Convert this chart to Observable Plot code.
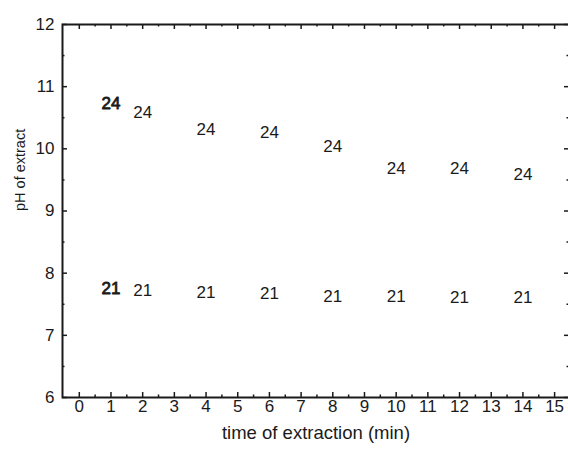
<!DOCTYPE html>
<html>
<head>
<meta charset="utf-8">
<script src="https://cdn.jsdelivr.net/npm/d3@7"></script>
<script src="https://cdn.jsdelivr.net/npm/@observablehq/plot@0.6"></script>
<style>
  html, body { margin: 0; padding: 0; background: #fff; overflow: hidden; }
</style>
</head>
<body>
<div id="chart"></div>
<script>
// Extraction time (min) and measured pH of the extract for the two samples
const time = [1, 2, 4, 6, 8, 10, 12, 14];
const ph24 = [10.73, 10.59, 10.31, 10.27, 10.04, 9.68, 9.69, 9.58];
const ph21 = [7.76, 7.72, 7.69, 7.67, 7.63, 7.63, 7.60, 7.60];
const seriesNames = ["24", "21"];

// Axis ticks
const xTicks = d3.range(0, 16);          // 0 … 15
const xMinor = d3.range(0.5, 15, 1);      // 0.5 … 14.5
const yTicks = d3.range(6, 13);           // 6 … 12
const yMinor = d3.range(6.5, 12, 1);      // 6.5 … 11.5

const xTitle = "time of extraction (min)";
const yTitle = "pH of extract";

const points = [
  ...time.map((t, i) => ({t, ph: ph24[i], name: seriesNames[0]})),
  ...time.map((t, i) => ({t, ph: ph21[i], name: seriesNames[1]}))
];

// The right edge of the frame sits just past the page edge; only its ticks show.
const W = 568, H = 451;
const mTop = 24, mBottom = 54, mLeft = 62, mRight = -1;
const plotW = W - mLeft - mRight;
const plotH = H - mTop - mBottom;
const major = 5, minor = 2.5;
const ink = "#1a1a1a";

const chart = Plot.plot({
  width: W,
  height: H,
  marginTop: mTop,
  marginBottom: mBottom,
  marginLeft: mLeft,
  marginRight: mRight,
  style: {fontFamily: "'Liberation Sans', Arial, sans-serif", fontSize: "17px", color: ink, background: "#fff"},
  x: {domain: [-0.53, 15.47], axis: null},
  y: {domain: [6, 12], axis: null},
  marks: [
    // inward ticks on all four sides
    Plot.tickX(xTicks, {x: d => d, insetTop: plotH - major, stroke: ink, strokeWidth: 1.5}),
    Plot.tickX(xTicks, {x: d => d, insetBottom: plotH - major, stroke: ink, strokeWidth: 1.5}),
    Plot.tickX(xMinor, {x: d => d, insetTop: plotH - minor, stroke: ink, strokeWidth: 1.5}),
    Plot.tickX(xMinor, {x: d => d, insetBottom: plotH - minor, stroke: ink, strokeWidth: 1.5}),
    Plot.tickY(yTicks, {y: d => d, insetRight: plotW - major, stroke: ink, strokeWidth: 1.5}),
    Plot.tickY(yTicks, {y: d => d, insetLeft: plotW - major, stroke: ink, strokeWidth: 1.5}),
    Plot.tickY(yMinor, {y: d => d, insetRight: plotW - minor, stroke: ink, strokeWidth: 1.5}),
    Plot.tickY(yMinor, {y: d => d, insetLeft: plotW - minor, stroke: ink, strokeWidth: 1.5}),
    Plot.frame({stroke: ink, strokeWidth: 2}),

    // tick labels
    Plot.text(xTicks, {x: d => d, frameAnchor: "bottom", dy: 14.5, text: d => String(d), fill: ink, fontSize: 17}),
    Plot.text(yTicks, {y: d => d, frameAnchor: "left", dx: -8, textAnchor: "end", text: d => String(d), fill: ink, fontSize: 17}),

    // axis titles
    Plot.text([xTitle], {frameAnchor: "bottom", dy: 41.5, text: d => d, fill: ink, fontSize: 18.5}),
    Plot.text([yTitle], {frameAnchor: "left", dx: -42, rotate: -90, text: d => d, fill: ink, fontSize: 14.5}),

    // data points drawn as their sample labels
    Plot.text(points.filter(d => d.t !== 1), {x: "t", y: "ph", text: "name", fill: ink, fontSize: 17}),
    Plot.text(points.filter(d => d.t === 1), {x: "t", y: "ph", text: "name", fill: ink, stroke: ink, strokeWidth: 0.8, fontSize: 17})
  ]
});

document.getElementById("chart").append(chart);
</script>
</body>
</html>
